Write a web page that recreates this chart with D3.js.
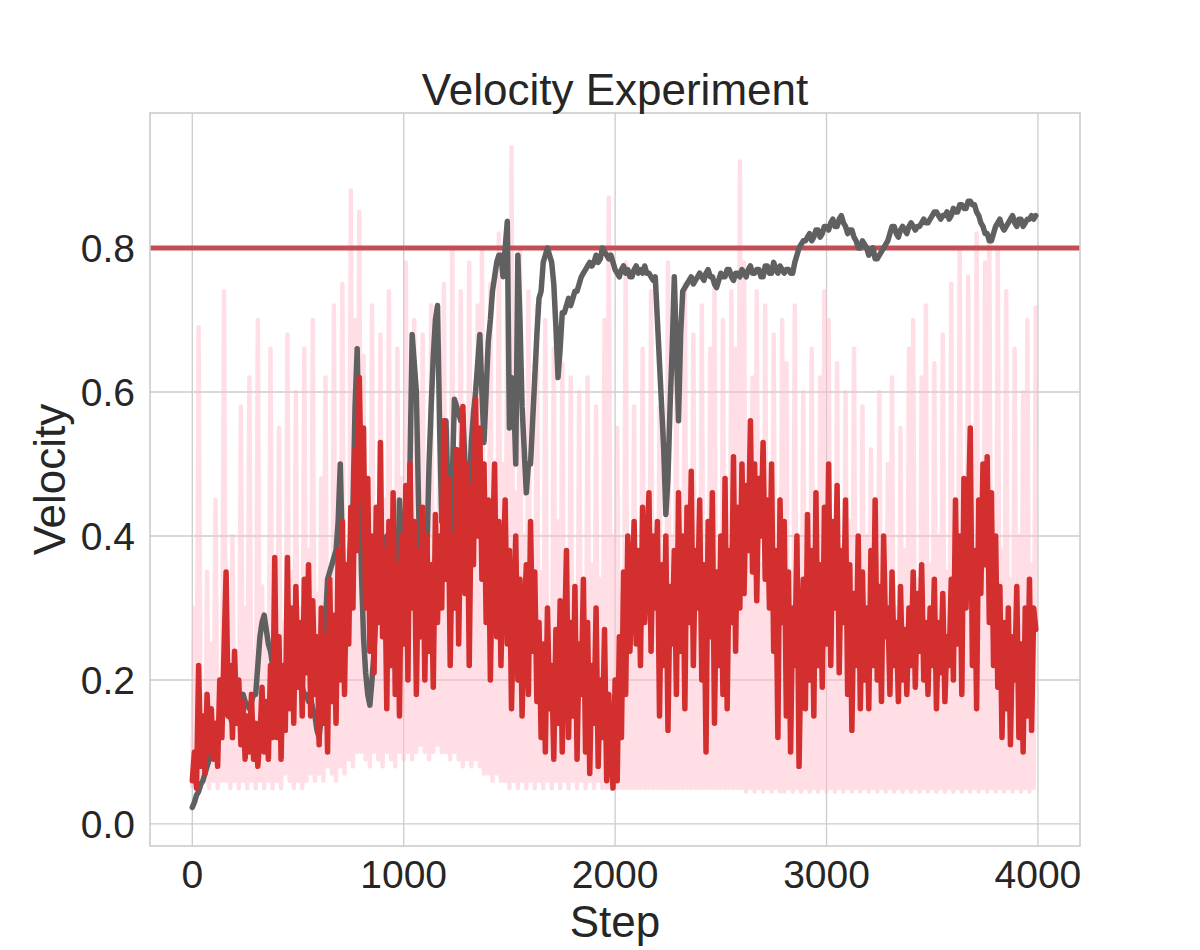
<!DOCTYPE html>
<html><head><meta charset="utf-8">
<script src="https://cdn.jsdelivr.net/npm/d3@7/dist/d3.min.js"></script>
<style>body{margin:0;background:#fff}</style></head>
<body>
<script>
const title = "Velocity Experiment";
const xLabel = "Step";
const yLabel = "Velocity";
const xTicks = [0, 1000, 2000, 3000, 4000];
const yTicks = [0, 0.2, 0.4, 0.6, 0.8];
const yTickLabels = ["0.0", "0.2", "0.4", "0.6", "0.8"];
const targetVelocity = 0.8;

// sampling interval (steps) of each series
const pinkInterval = 10;
const grayInterval = 10;
const redInterval = 10;

// raw per-step velocity (light pink), read as alternating troughs / peaks
const pinkValues = [
  0.05,0.30,0.06,0.69,0.05,0.18,0.06,0.35,0.05,0.25,0.06,0.45,0.05,0.20,0.06,0.74,0.06,0.28,0.05,0.40,
  0.06,0.22,0.05,0.58,0.06,0.30,0.05,0.62,0.06,0.24,0.05,0.70,0.06,0.33,0.05,0.26,0.06,0.66,0.05,0.30,
  0.06,0.55,0.05,0.28,0.07,0.68,0.06,0.35,0.05,0.60,0.06,0.30,0.05,0.66,0.06,0.38,0.07,0.70,0.06,0.32,
  0.07,0.48,0.06,0.62,0.08,0.34,0.07,0.72,0.06,0.40,0.08,0.75,0.07,0.38,0.09,0.88,0.08,0.70,0.10,0.85,
  0.10,0.65,0.09,0.42,0.08,0.72,0.10,0.36,0.09,0.68,0.08,0.45,0.10,0.74,0.09,0.38,0.08,0.66,0.10,0.48,
  0.09,0.78,0.10,0.40,0.09,0.70,0.10,0.44,0.11,0.68,0.10,0.36,0.09,0.72,0.10,0.42,0.11,0.66,0.10,0.75,
  0.10,0.45,0.09,0.80,0.10,0.40,0.09,0.74,0.08,0.48,0.09,0.78,0.08,0.42,0.09,0.72,0.08,0.80,0.07,0.46,
  0.07,0.75,0.06,0.44,0.07,0.82,0.06,0.50,0.06,0.78,0.05,0.94,0.06,0.46,0.05,0.80,0.06,0.40,0.05,0.74,
  0.06,0.38,0.05,0.72,0.06,0.35,0.05,0.70,0.06,0.30,0.05,0.66,0.06,0.42,0.05,0.64,0.06,0.28,0.05,0.62,
  0.06,0.32,0.05,0.60,0.06,0.30,0.05,0.62,0.06,0.36,0.05,0.58,0.06,0.34,0.05,0.70,0.05,0.87,0.05,0.40,
  0.05,0.55,0.05,0.32,0.05,0.78,0.05,0.38,0.05,0.58,0.05,0.30,0.05,0.66,0.05,0.40,0.05,0.74,0.05,0.35,
  0.05,0.58,0.05,0.36,0.05,0.78,0.05,0.40,0.05,0.70,0.05,0.32,0.05,0.75,0.05,0.38,0.05,0.68,0.05,0.42,
  0.05,0.72,0.05,0.38,0.05,0.66,0.05,0.76,0.05,0.35,0.05,0.70,0.05,0.42,0.05,0.74,0.05,0.66,0.05,0.92,
  0.05,0.78,0.045,0.40,0.05,0.62,0.045,0.74,0.05,0.36,0.045,0.72,0.05,0.44,0.045,0.68,0.05,0.38,0.045,0.70,
  0.045,0.64,0.05,0.34,0.045,0.72,0.05,0.40,0.045,0.60,0.05,0.30,0.045,0.66,0.05,0.36,0.045,0.62,0.05,0.74,
  0.045,0.70,0.05,0.38,0.045,0.64,0.05,0.32,0.045,0.60,0.05,0.42,0.045,0.66,0.05,0.34,0.045,0.58,0.05,0.40,
  0.045,0.52,0.05,0.32,0.045,0.60,0.05,0.36,0.045,0.50,0.05,0.62,0.045,0.30,0.05,0.55,0.045,0.38,0.05,0.66,
  0.045,0.70,0.05,0.34,0.045,0.62,0.05,0.72,0.045,0.36,0.05,0.64,0.045,0.40,0.05,0.68,0.045,0.35,0.05,0.75,
  0.045,0.42,0.05,0.80,0.045,0.38,0.05,0.76,0.045,0.44,0.05,0.82,0.045,0.40,0.05,0.78,0.045,0.81,0.05,0.46,
  0.045,0.80,0.05,0.38,0.045,0.74,0.05,0.34,0.045,0.66,0.05,0.40,0.045,0.60,0.05,0.70,0.045,0.36,0.05,0.72
];

// dark gray series
const grayValues = [
  0.023,0.03,0.04,0.045,0.055,0.06,0.07,0.08,0.09,0.10,0.12,0.125,0.135,0.14,0.15,0.155,0.156,0.15,0.148,0.14,
  0.145,0.14,0.15,0.16,0.18,0.17,0.165,0.16,0.17,0.18,0.18,0.22,0.26,0.28,0.29,0.27,0.25,0.24,0.22,0.21,
  0.21,0.22,0.21,0.20,0.21,0.22,0.21,0.20,0.20,0.19,0.19,0.20,0.19,0.18,0.18,0.17,0.175,0.16,0.15,0.13,
  0.12,0.15,0.20,0.28,0.34,0.35,0.36,0.37,0.38,0.42,0.50,0.38,0.25,0.30,0.34,0.40,0.44,0.58,0.66,0.50,
  0.35,0.26,0.21,0.18,0.165,0.20,0.24,0.30,0.33,0.36,0.38,0.39,0.40,0.36,0.30,0.25,0.235,0.32,0.45,0.40,
  0.36,0.34,0.34,0.50,0.68,0.64,0.60,0.45,0.31,0.29,0.28,0.38,0.50,0.58,0.65,0.70,0.72,0.55,0.42,0.48,
  0.56,0.45,0.34,0.48,0.59,0.58,0.57,0.56,0.57,0.50,0.40,0.46,0.53,0.57,0.60,0.64,0.68,0.60,0.53,0.60,
  0.67,0.70,0.74,0.76,0.78,0.79,0.79,0.76,0.80,0.837,0.55,0.62,0.60,0.50,0.79,0.70,0.58,0.52,0.46,0.50,
  0.50,0.56,0.62,0.68,0.73,0.74,0.78,0.79,0.80,0.79,0.78,0.75,0.69,0.62,0.66,0.71,0.71,0.72,0.73,0.72,
  0.73,0.74,0.74,0.75,0.76,0.765,0.77,0.775,0.78,0.775,0.78,0.79,0.78,0.785,0.80,0.795,0.79,0.785,0.79,0.78,
  0.77,0.765,0.76,0.77,0.775,0.765,0.77,0.76,0.76,0.77,0.775,0.765,0.77,0.765,0.775,0.765,0.765,0.76,0.755,0.76,
  0.70,0.64,0.58,0.52,0.43,0.48,0.58,0.66,0.76,0.66,0.56,0.68,0.74,0.745,0.75,0.755,0.76,0.75,0.755,0.76,
  0.765,0.76,0.755,0.765,0.77,0.76,0.76,0.75,0.745,0.755,0.765,0.76,0.76,0.77,0.77,0.76,0.755,0.765,0.765,0.76,
  0.77,0.765,0.76,0.77,0.775,0.765,0.765,0.77,0.77,0.76,0.76,0.775,0.775,0.765,0.765,0.78,0.77,0.765,0.775,0.77,
  0.765,0.77,0.77,0.765,0.765,0.78,0.79,0.80,0.805,0.81,0.81,0.815,0.82,0.81,0.815,0.825,0.825,0.815,0.82,0.83,
  0.83,0.825,0.835,0.84,0.83,0.83,0.84,0.845,0.835,0.83,0.82,0.825,0.825,0.815,0.81,0.80,0.80,0.81,0.805,0.80,
  0.79,0.795,0.80,0.785,0.785,0.79,0.795,0.80,0.805,0.81,0.82,0.83,0.83,0.82,0.815,0.825,0.83,0.825,0.82,0.83,
  0.835,0.83,0.825,0.83,0.83,0.835,0.84,0.835,0.835,0.84,0.845,0.85,0.85,0.845,0.84,0.845,0.845,0.85,0.84,0.845,
  0.855,0.85,0.85,0.86,0.86,0.855,0.855,0.865,0.865,0.86,0.86,0.85,0.845,0.835,0.83,0.82,0.82,0.81,0.81,0.82,
  0.83,0.835,0.84,0.83,0.825,0.83,0.835,0.84,0.845,0.835,0.83,0.84,0.84,0.83,0.835,0.84,0.84,0.845,0.84,0.845
];

// red series
const redValues = [
  0.06,0.10,0.05,0.22,0.08,0.15,0.07,0.18,0.10,0.16,0.09,0.14,0.08,0.20,0.12,0.24,0.35,0.15,0.22,0.12,
  0.24,0.14,0.20,0.11,0.17,0.09,0.15,0.10,0.18,0.09,0.14,0.08,0.12,0.19,0.10,0.17,0.09,0.22,0.12,0.37,
  0.12,0.26,0.09,0.22,0.13,0.37,0.16,0.30,0.14,0.33,0.19,0.28,0.15,0.34,0.21,0.36,0.15,0.31,0.18,0.26,
  0.11,0.30,0.14,0.26,0.10,0.34,0.17,0.29,0.14,0.38,0.20,0.42,0.18,0.36,0.25,0.44,0.30,0.52,0.38,0.62,
  0.45,0.55,0.30,0.48,0.24,0.40,0.21,0.44,0.28,0.53,0.26,0.38,0.16,0.42,0.22,0.46,0.18,0.36,0.15,0.40,
  0.25,0.47,0.20,0.50,0.30,0.42,0.18,0.38,0.26,0.44,0.20,0.40,0.24,0.36,0.19,0.43,0.28,0.40,0.30,0.56,
  0.34,0.48,0.22,0.40,0.30,0.52,0.25,0.45,0.58,0.32,0.50,0.22,0.47,0.36,0.59,0.40,0.55,0.34,0.50,0.28,
  0.45,0.20,0.38,0.50,0.26,0.42,0.22,0.35,0.45,0.25,0.38,0.16,0.30,0.40,0.20,0.34,0.15,0.28,0.36,0.18,
  0.42,0.24,0.35,0.17,0.28,0.12,0.25,0.10,0.30,0.16,0.22,0.09,0.27,0.14,0.31,0.10,0.24,0.38,0.12,0.28,
  0.15,0.33,0.09,0.25,0.18,0.34,0.10,0.28,0.07,0.22,0.14,0.30,0.08,0.20,0.12,0.27,0.06,0.18,0.10,0.05,
  0.20,0.06,0.26,0.12,0.35,0.18,0.40,0.24,0.32,0.42,0.25,0.38,0.22,0.44,0.28,0.36,0.46,0.24,0.40,0.30,
  0.42,0.15,0.36,0.22,0.40,0.13,0.33,0.25,0.38,0.18,0.46,0.24,0.40,0.16,0.44,0.28,0.49,0.22,0.38,0.30,
  0.45,0.20,0.36,0.10,0.42,0.26,0.46,0.14,0.35,0.22,0.40,0.18,0.48,0.16,0.38,0.28,0.51,0.24,0.44,0.30,
  0.50,0.32,0.47,0.38,0.56,0.35,0.50,0.31,0.48,0.40,0.53,0.34,0.45,0.30,0.50,0.24,0.38,0.12,0.45,0.28,
  0.42,0.15,0.35,0.10,0.30,0.22,0.40,0.08,0.25,0.34,0.16,0.43,0.20,0.38,0.15,0.46,0.22,0.36,0.19,0.44,
  0.25,0.50,0.22,0.42,0.30,0.47,0.21,0.38,0.28,0.45,0.18,0.36,0.13,0.32,0.22,0.40,0.16,0.35,0.20,0.30,
  0.16,0.38,0.22,0.45,0.20,0.33,0.17,0.40,0.26,0.30,0.18,0.35,0.22,0.28,0.17,0.33,0.20,0.27,0.18,0.30,
  0.22,0.35,0.19,0.32,0.24,0.36,0.20,0.28,0.18,0.30,0.22,0.34,0.16,0.28,0.21,0.32,0.17,0.26,0.22,0.34,
  0.20,0.45,0.25,0.40,0.18,0.48,0.30,0.42,0.55,0.22,0.38,0.16,0.45,0.32,0.50,0.36,0.51,0.28,0.46,0.22,
  0.40,0.19,0.33,0.12,0.28,0.16,0.30,0.11,0.26,0.20,0.33,0.12,0.25,0.10,0.30,0.15,0.34,0.13,0.30,0.27
];

const W = 1200, H = 950;
const plot = {left: 150, right: 1080, top: 113, bottom: 846};
const font = "'Liberation Sans', Arial, sans-serif";
const textColor = "#262626";

const svg = d3.select("body").append("svg")
  .attr("width", W).attr("height", H)
  .style("background", "#fff");

const x = d3.scaleLinear().domain([-200, 4199]).range([plot.left, plot.right]);
const y = d3.scaleLinear().domain([-0.0306, 0.9875]).range([plot.bottom, plot.top]);

svg.append("defs").append("clipPath").attr("id", "clip")
  .append("rect").attr("x", plot.left).attr("y", plot.top)
  .attr("width", plot.right - plot.left).attr("height", plot.bottom - plot.top);

// grid
const grid = svg.append("g");
grid.selectAll("line.xg").data(xTicks).join("line")
  .attr("x1", d => x(d)).attr("x2", d => x(d))
  .attr("y1", plot.top).attr("y2", plot.bottom)
  .attr("stroke", "#cccccc").attr("stroke-width", 1.3);
grid.selectAll("line.yg").data(yTicks).join("line")
  .attr("y1", d => y(d)).attr("y2", d => y(d))
  .attr("x1", plot.left).attr("x2", plot.right)
  .attr("stroke", "#cccccc").attr("stroke-width", 1.3);

const g = svg.append("g").attr("clip-path", "url(#clip)");

function seriesLine(interval) {
  return d3.line().x((d, i) => x(i * interval)).y(d => y(d)).curve(d3.curveLinear);
}

g.append("path").datum(pinkValues)
  .attr("d", seriesLine(pinkInterval))
  .attr("fill", "none").attr("stroke", "#ffc0cb").attr("stroke-opacity", 0.5)
  .attr("stroke-width", 4.5).attr("stroke-linejoin", "round");

g.append("line")
  .attr("x1", plot.left).attr("x2", plot.right)
  .attr("y1", y(targetVelocity)).attr("y2", y(targetVelocity))
  .attr("stroke", "#c44e52").attr("stroke-width", 5);

g.append("path").datum(grayValues)
  .attr("d", seriesLine(grayInterval))
  .attr("fill", "none").attr("stroke", "#606060")
  .attr("stroke-width", 5.5).attr("stroke-linejoin", "round").attr("stroke-linecap", "round");

g.append("path").datum(redValues)
  .attr("d", seriesLine(redInterval))
  .attr("fill", "none").attr("stroke", "#d32f2f")
  .attr("stroke-width", 5.5).attr("stroke-linejoin", "round").attr("stroke-linecap", "round");

// frame
svg.append("rect")
  .attr("x", plot.left).attr("y", plot.top)
  .attr("width", plot.right - plot.left).attr("height", plot.bottom - plot.top)
  .attr("fill", "none").attr("stroke", "#cccccc").attr("stroke-width", 1.6);

// tick labels
svg.append("g").selectAll("text").data(xTicks).join("text")
  .attr("x", d => x(d)).attr("y", 888)
  .attr("text-anchor", "middle")
  .attr("font-family", font).attr("font-size", 39).attr("fill", textColor)
  .text(d => String(d));

svg.append("g").selectAll("text").data(yTicks).join("text")
  .attr("x", 135).attr("y", d => y(d)).attr("dy", "0.36em")
  .attr("text-anchor", "end")
  .attr("font-family", font).attr("font-size", 39).attr("fill", textColor)
  .text((d, i) => yTickLabels[i]);

// title and axis labels
svg.append("text")
  .attr("x", (plot.left + plot.right) / 2).attr("y", 105)
  .attr("text-anchor", "middle")
  .attr("font-family", font).attr("font-size", 44).attr("fill", textColor)
  .text(title);

svg.append("text")
  .attr("x", (plot.left + plot.right) / 2).attr("y", 937)
  .attr("text-anchor", "middle")
  .attr("font-family", font).attr("font-size", 44).attr("fill", textColor)
  .text(xLabel);

svg.append("text")
  .attr("transform", `translate(65, ${(plot.top + plot.bottom) / 2}) rotate(-90)`)
  .attr("text-anchor", "middle")
  .attr("font-family", font).attr("font-size", 44).attr("fill", textColor)
  .text(yLabel);
</script>
</body></html>
